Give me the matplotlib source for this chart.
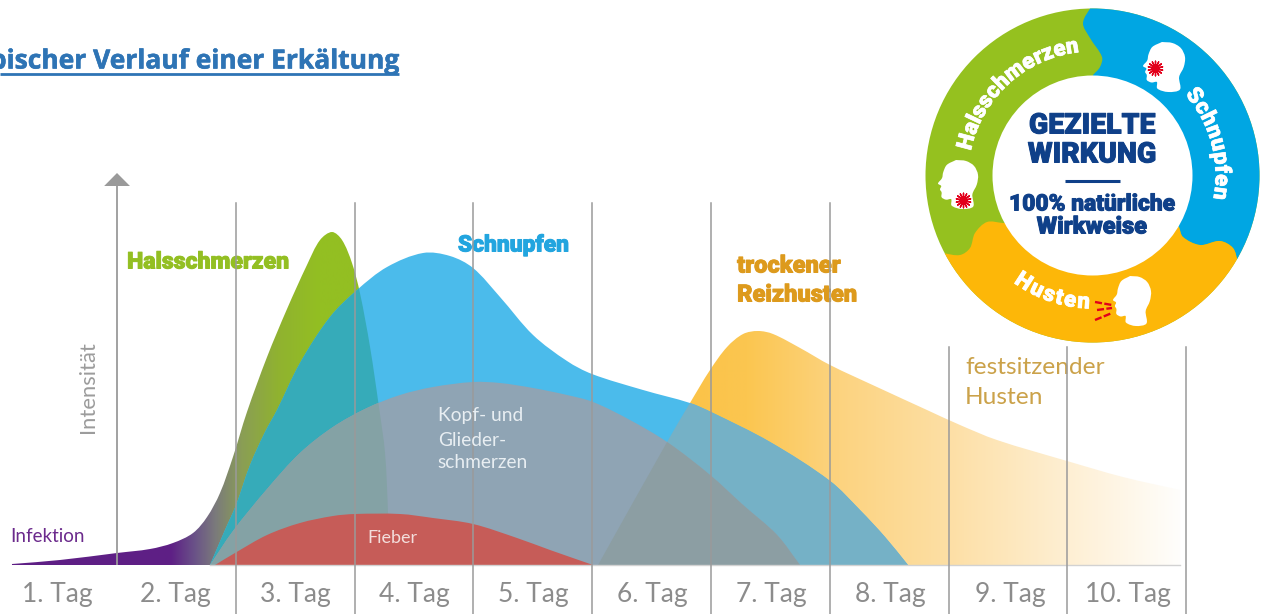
import numpy as np
import matplotlib
matplotlib.use("Agg")
import matplotlib.pyplot as plt
from matplotlib.path import Path
from matplotlib.patches import PathPatch, Circle, Polygon
from matplotlib.textpath import TextPath
from matplotlib.font_manager import FontProperties
import matplotlib.patheffects as pe

# chart data: x in days, y in intensity
day_labels = ["1. Tag", "2. Tag", "3. Tag", "4. Tag", "5. Tag", "6. Tag", "7. Tag", "8. Tag", "9. Tag", "10. Tag"]
day_centers = [0.496, 1.488, 2.498, 3.500, 4.502, 5.503, 6.505, 7.507, 8.517, 9.510]
tall_lines = [2, 3, 4, 5, 6, 7]
short_lines = [8, 9, 10]

hals_x = [0.116, 0.520, 1.0, 1.278, 1.471, 1.640, 1.758, 1.867, 1.976, 2.094, 2.263, 2.431, 2.599, 2.709, 2.810, 2.894, 2.978, 3.045, 3.130, 3.205, 3.256, 3.281, 3.290]
hals_y = [1, 5, 12, 16, 22, 32, 48, 72, 108, 153, 208, 256, 300, 325, 333, 325, 302, 272, 218, 158, 112, 52, 0]

schnupfen_x = [1.783, 1.909, 2.002, 2.120, 2.246, 2.347, 2.540, 2.793, 3.020, 3.273, 3.576, 3.803, 3.997, 4.224, 4.502, 4.788, 4.998, 5.428, 5.823, 6.0, 6.497, 7.002, 7.254, 7.465, 7.658]
schnupfen_y = [0, 35, 60, 100, 133, 155, 202, 248, 275, 298, 312, 309, 297, 268, 230, 204, 191, 175, 162, 153, 123, 84, 55, 28, 0]

kopf_x = [1.783, 1.976, 2.263, 2.540, 2.818, 3.104, 3.382, 3.660, 3.997, 4.224, 4.502, 4.788, 5.007, 5.318, 5.630, 5.992, 6.270, 6.556, 6.749]
kopf_y = [0, 34, 76, 112, 138, 157, 170, 178, 183, 182, 177, 170, 163, 145, 123, 90, 60, 30, 0]

fieber_x = [1.825, 1.993, 2.263, 2.540, 2.818, 3.003, 3.382, 3.660, 3.997, 4.367, 4.645, 5.007]
fieber_y = [0, 12, 30, 42, 49, 51, 51, 47, 41, 27, 15, 0]

husten_x = [5.049, 5.630, 5.823, 5.992, 6.135, 6.270, 6.396, 6.522, 6.750, 7.002, 7.397, 7.818, 8.096, 8.407, 8.997, 9.468, 9.948]
husten_y = [0, 123, 162, 195, 218, 231, 234, 231, 217, 200, 178, 155, 140, 125, 104, 88, 75]

# logo shapes, pixel positions
blue_top_x = [1092, 1083, 1090, 1102, 1100, 1093]
blue_top_y = [5, 23, 38, 57, 67, 75]
blue_bottom_x = [1179, 1183, 1200, 1220, 1233, 1238]
blue_bottom_y = [227, 237, 245, 241, 248, 262]
yellow_left_x = [1003, 987, 975, 970, 960, 943, 930]
yellow_left_y = [223, 222, 233, 248, 255, 253, 250]
head_x = [0.45, 0.22, 0.13, 0.10, 0.0, 0.08, 0.05, 0.09, 0.09, 0.2, 0.33, 0.34, 0.6, 0.88, 0.86, 0.97, 1.0, 0.9, 0.7]
head_y = [0.0, 0.1, 0.25, 0.37, 0.48, 0.53, 0.6, 0.66, 0.76, 0.81, 0.8, 0.93, 1.0, 0.95, 0.7, 0.5, 0.3, 0.12, 0.02]


def spline(xs, ys, xscale=1.0):
    pts = np.column_stack([xs, ys]).astype(float)
    seen = pts * [xscale, 1.0]
    d = np.hypot(*np.diff(seen, axis=0).T)
    tang = np.zeros_like(pts)
    tang[0] = (pts[1] - pts[0]) / d[0]
    tang[-1] = (pts[-1] - pts[-2]) / d[-1]
    for i in range(1, len(pts) - 1):
        tang[i] = (pts[i + 1] - pts[i - 1]) / (d[i - 1] + d[i])
    verts, codes = [], []
    for i in range(len(pts) - 1):
        verts += [tuple(pts[i] + tang[i] * d[i] / 3), tuple(pts[i + 1] - tang[i + 1] * d[i] / 3), tuple(pts[i + 1])]
        codes += [Path.CURVE4] * 3
    return pts, verts, codes


def curve_path(xs, ys):
    pts, v, c = spline(xs, ys, 118.8)
    verts = [(pts[0][0], 0.0), tuple(pts[0])] + v + [(pts[-1][0], 0.0), (pts[0][0], 0.0)]
    codes = [Path.MOVETO, Path.LINETO] + c + [Path.LINETO, Path.CLOSEPOLY]
    return Path(verts, codes)


def blob_path(parts):
    # parts are spline lists (x, y) or plain corners (x, y, None)
    verts, codes = [], []
    for part in parts:
        if len(part) == 2:
            pts, v, c = spline(part[0], part[1])
            verts.append(tuple(pts[0]))
            codes.append(Path.LINETO)
            verts += v
            codes += c
        else:
            verts.append(part[:2])
            codes.append(Path.LINETO)
    codes[0] = Path.MOVETO
    verts.append(verts[0])
    codes.append(Path.CLOSEPOLY)
    return Path(verts, codes)


def hex_rgb(c):
    return np.array(matplotlib.colors.to_rgb(c))


def gradient(ax, path, stops, zorder):
    xs = np.linspace(stops[0][0], stops[-1][0], 400)
    cols = np.array([hex_rgb(s[1]) for s in stops])
    where = [s[0] for s in stops]
    row = np.column_stack([np.interp(xs, where, cols[:, k]) for k in range(3)])
    im = ax.imshow(row[np.newaxis, :, :], extent=(xs[0], xs[-1], 0, 400), aspect="auto",
                   origin="lower", interpolation="bilinear", zorder=zorder)
    im.set_clip_path(path, transform=ax.transData)


def clipped_fill(ax, path, clip, color, zorder):
    p = PathPatch(path, facecolor=color, edgecolor="none", zorder=zorder)
    ax.add_patch(p)
    if clip is not None:
        p.set_clip_path(clip, transform=ax.transData)


figure = plt.figure(figsize=(12.63, 6.14), dpi=100, facecolor="#FFFFFF")
axes = figure.add_axes([0, 49 / 614, 1, 565 / 614])
axes.set_facecolor("none")

hals_path = curve_path(hals_x, hals_y)
schnupfen_path = curve_path(schnupfen_x, schnupfen_y)
kopf_path = curve_path(kopf_x, kopf_y)
fieber_path = curve_path(fieber_x, fieber_y)
husten_path = curve_path(husten_x, husten_y)

gradient(axes, hals_path, [(0.1, "#5E1F85"), (1.45, "#5E1F85"), (1.65, "#6A5288"), (1.83, "#7B7B7B"),
                           (2.05, "#8A9E55"), (2.35, "#90B230"), (2.7, "#93BF22"), (3.4, "#93BF22")], 1)
gradient(axes, husten_path, [(5.0, "#FBBE3A"), (6.3, "#FBC650"), (7.0, "#FCD27C"), (8.0, "#FDDFA5"),
                             (9.0, "#FEEFD3"), (9.95, "#FFFEFC")], 1)
clipped_fill(axes, schnupfen_path, None, "#4BBBEB", 2)
clipped_fill(axes, hals_path, schnupfen_path, "#36ABB9", 3)
clipped_fill(axes, husten_path, schnupfen_path, "#75B1C6", 3)
clipped_fill(axes, kopf_path, None, "#8FA4B4", 4)
clipped_fill(axes, hals_path, kopf_path, "#84A2A5", 5)
clipped_fill(axes, husten_path, kopf_path, "#8C9EA3", 5)
clipped_fill(axes, fieber_path, None, "#C65C58", 6)

line_color = "#9A9A9A"
axes.plot([1, 1], [0, 385], color=line_color, lw=1.3, zorder=8)
axes.add_patch(Polygon([(0.892, 379), (1.109, 379), (1.0, 392)], closed=True, facecolor=line_color, edgecolor="none", zorder=8))
for d in tall_lines:
    axes.plot([d, d], [-60, 362], color=line_color, lw=1.1, zorder=8, clip_on=False)
for d in short_lines:
    axes.plot([d, d], [-60, 218], color=line_color, lw=1.1, zorder=8, clip_on=False)
axes.plot([1.78, 9.95], [0, 0], color="#D2D2D2", lw=1.0, zorder=7, clip_on=False)

light = "Lato"
heavy = "Roboto"


def bold_fx(color, w=0.7):
    return [pe.withStroke(linewidth=w, foreground=color)]


axes.set_xticks(day_centers, day_labels, fontsize=19, color="#8C8C8C", family=light)
axes.tick_params(axis="x", length=0, pad=12)
axes.set_yticks([])
for s in axes.spines.values():
    s.set_visible(False)

axes.text(0.757, 178, "Intensität", rotation=90, ha="center", va="center", fontsize=15.8, color="#9C9C9C", family=light, zorder=7)
axes.text(0.105, 28, "Infektion", ha="left", va="center", fontsize=13.5, color="#6B2A8C", family=light, zorder=9)
axes.text(3.105, 27, "Fieber", ha="left", va="center", fontsize=13, color="#F3DEDC", family=light, zorder=9)
for txt, y in zip(["Kopf- und", "Glieder-", "schmerzen"], [149, 125, 102]):
    axes.text(3.70, y, txt, ha="left", va="center", fontsize=13.8, color="#E8EEF2", family=light, zorder=9)
labels = [(1.085, 303, "Halsschmerzen", "#93BF22", 16.6), (3.87, 320, "Schnupfen", "#22A5DF", 16.4),
          (6.22, 299, "trockener", "#DD9A1C", 17), (6.22, 270, "Reizhusten", "#DD9A1C", 17)]
for x, y, txt, col, size in labels:
    axes.text(x, y, txt, ha="left", va="center", fontsize=size, color=col, family=heavy, weight="black", zorder=7,
              path_effects=bold_fx(col))
axes.text(8.14, 198, "festsitzender", ha="left", va="center", fontsize=17.6, color="#CBA24A", family=light, zorder=7)
axes.text(8.14, 168, "Husten", ha="left", va="center", fontsize=17.6, color="#CBA24A", family=light, zorder=7)

axes.set_xlim(1.8 / 118.8, 1264.8 / 118.8)
axes.set_ylim(0, 565)

# overlay in pixels: title and logo
over = figure.add_axes([0, 0, 1, 1])
over.set_xlim(0, 1263)
over.set_ylim(614, 0)
over.axis("off")
over.set_facecolor("none")

over.text(397.5, 61, "Typischer Verlauf einer Erkältung", ha="right", va="center", fontsize=19, color="#2E74B5",
          family="Open Sans", weight="bold", path_effects=bold_fx("#2E74B5", 0.4))
over.plot([0, 399], [74, 74], color="#2E74B5", lw=2.0, solid_capstyle="butt")

cx, cy, R, r_in = 1092.5, 175.5, 167, 100
ring = Circle((cx, cy), R, facecolor="#95C11F", edgecolor="none", zorder=2)
over.add_patch(ring)
blue_blob = blob_path([(blue_top_x, blue_top_y), (1100, 150, None), (blue_bottom_x, blue_bottom_y),
                       (1300, 262, None), (1300, 0, None), (1092, 0, None)])
yellow_blob = blob_path([(blue_bottom_x[::-1], blue_bottom_y[::-1]), (yellow_left_x, yellow_left_y),
                         (900, 260, None), (900, 400, None), (1300, 400, None), (1300, 262, None)])
for path, col in [(blue_blob, "#00A6E3"), (yellow_blob, "#FDB708")]:
    blob = PathPatch(path, facecolor=col, edgecolor="none", zorder=3)
    over.add_patch(blob)
    blob.set_clip_path(Circle((cx, cy), R, transform=over.transData))
over.add_patch(Circle((cx, cy), r_in, facecolor="#FFFFFF", edgecolor="none", zorder=4))

navy = "#0F4089"
for y, txt, size in [(126, "GEZIELTE", 20.5), (155, "WIRKUNG", 20.5), (204, "100% natürliche", 16.4), (227, "Wirkweise", 17)]:
    over.text(1092, y, txt, ha="center", va="center", fontsize=size, color=navy, family=heavy, weight="black", zorder=6,
              path_effects=bold_fx(navy))
over.plot([1065, 1120], [181, 181], color=navy, lw=2.2, zorder=6, solid_capstyle="butt")


def ring_text(word, radius, a0, a1, size, outward=True):
    prop = FontProperties(family=heavy, weight="black")
    mids = []
    for i, ch in enumerate(word):
        before = TextPath((0, 0), word[:i + 1], size=10, prop=prop).get_extents().x1
        mids.append(before - TextPath((0, 0), ch, size=10, prop=prop).get_extents().width / 2)
    mids = np.array(mids)
    t = (mids - mids[0]) / (mids[-1] - mids[0])
    for ch, f in zip(word, t):
        a = a0 + (a1 - a0) * f
        rad = np.deg2rad(a)
        rot = a - 90 if outward else a + 90
        over.text(cx + radius * np.cos(rad), cy - radius * np.sin(rad), ch, rotation=rot, rotation_mode="anchor",
                  ha="center", va="center", fontsize=size, color="#FFFFFF", family=heavy, weight="black", zorder=6,
                  path_effects=bold_fx("#FFFFFF", 0.5))


ring_text("Halsschmerzen", 130, 165, 99, 16)
ring_text("Schnupfen", 129, 38, -8, 16)
ring_text("Husten", 127, 237, 266, 16, outward=False)

for x0, y0, w, h in [(1143, 42, 42, 50), (938, 160, 40, 49), (1113, 276, 38, 50)]:
    hx = list(x0 + np.array(head_x) * w)
    hy = list(y0 + np.array(head_y) * h)
    over.add_patch(PathPatch(blob_path([(hx + hx[:1], hy + hy[:1])]), facecolor="#FFFFFF", edgecolor="none", zorder=5))

over.scatter([1155, 963], [68, 200], marker=(14, 2, 0), s=110, color="#E2001A", linewidths=1.0, zorder=6)
over.scatter([1155, 963], [68, 200], s=22, color="#E2001A", linewidths=0, zorder=6)
for xs, ys in [([1095, 1112], [302, 305]), ([1097, 1112], [310, 308]), ([1095, 1112], [320, 313])]:
    over.plot(xs, ys, color="#E2001A", lw=1.7, dashes=(3, 1), zorder=6)

figure.savefig("out.png", dpi=100, facecolor="#FFFFFF")
